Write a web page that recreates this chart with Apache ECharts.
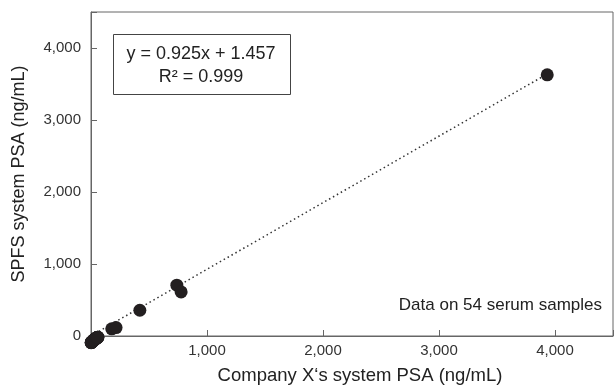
<!DOCTYPE html>
<html>
<head>
<meta charset="utf-8">
<script src="https://cdn.jsdelivr.net/npm/echarts@6/dist/echarts.min.js"></script>
<style>html,body{margin:0;padding:0;background:#fff}#c{width:616px;height:390px}</style>
</head>
<body>
<div id="c"></div>
<script>
// Company X PSA (x) vs SPFS PSA (y), ng/mL
const clusterX = [2, 5, 8, 3, 10, 12, 15, 6, 18, 20, 22, 9, 25, 28, 30, 14, 33, 35, 38, 40, 16, 42, 45, 48, 50, 11, 52, 55, 4, 58, 60, 24, 7, 13, 19, 27, 32, 36, 44, 1, 26, 17, 21, 31, 39, 47, 53, 57];
const clusterY = [-92, -88, -85, -90, -80, -78, -72, -86, -68, -66, -60, -82, -58, -52, -50, -75, -46, -42, -40, -36, -70, -34, -30, -26, -24, -79, -22, -20, -89, -18, -16, -55, -84, -76, -64, -56, -48, -44, -32, -94, -54, -71, -62, -49, -38, -28, -23, -19];
const highX = [179, 216, 421, 740, 777, 3933];
const highY = [100, 117, 358, 706, 612, 3628];
const trendX = [0, 3933];
const trendY = [1.5, 3639];
const xTicks = [1000, 2000, 3000, 4000];
const yTicks = [0, 1000, 2000, 3000, 4000];
const equationText = 'y = 0.925x + 1.457';
const r2Text = 'R² = 0.999';
const noteText = 'Data on 54 serum samples';
const xName = 'Company X‘s system PSA (ng/mL)';
const yName = 'SPFS system PSA (ng/mL)';

const points = clusterX.map((x, i) => [x, clusterY[i]]).concat(highX.map((x, i) => [x, highY[i]]));
const trend = trendX.map((x, i) => [x, trendY[i]]);
const fmt = v => v.toLocaleString('en-US');

const chart = echarts.init(document.getElementById('c'));
const font = 'Liberation Sans, Arial, sans-serif';
chart.setOption({
  animation: false,
  grid: { left: 91, top: 12, right: -3, bottom: 53, show: true, borderColor: '#666', borderWidth: 1, backgroundColor: 'transparent' },
  xAxis: {
    type: 'value', min: 0, max: 4500, interval: 1000,
    name: xName, nameLocation: 'middle', nameGap: 30,
    nameTextStyle: { fontFamily: font, fontSize: 18.5, color: '#222', padding: [0, 0, 0, 16] },
    axisLine: { lineStyle: { color: '#666', width: 1 } },
    axisTick: { inside: true, length: 6, lineStyle: { color: '#666' } },
    axisLabel: { fontFamily: font, fontSize: 15, color: '#333', margin: 7,
      formatter: v => xTicks.includes(v) ? fmt(v) : '' },
    splitLine: { show: false }
  },
  yAxis: {
    type: 'value', min: 0, max: 4500, interval: 1000,
    name: yName, nameLocation: 'middle', nameGap: 63,
    nameTextStyle: { fontFamily: font, fontSize: 18, color: '#222' },
    axisLine: { lineStyle: { color: '#666', width: 1 } },
    axisTick: { inside: true, length: 6, lineStyle: { color: '#666' } },
    axisLabel: { fontFamily: font, fontSize: 15, color: '#333', margin: 10,
      formatter: v => yTicks.includes(v) ? fmt(v) : '' },
    splitLine: { show: false }
  },
  graphic: [
    { type: 'rect', shape: { x: 113.5, y: 34.5, width: 177, height: 60 },
      style: { fill: '#fff', stroke: '#444', lineWidth: 1 }, z: 10 },
    { type: 'text', x: 201, y: 54, z: 11,
      style: { text: equationText, fontFamily: font, fontSize: 18, fill: '#222', align: 'center', verticalAlign: 'middle' } },
    { type: 'text', x: 201, y: 77, z: 11,
      style: { text: r2Text, fontFamily: font, fontSize: 18, fill: '#222', align: 'center', verticalAlign: 'middle' } },
    { type: 'text', x: 602, y: 305, z: 11,
      style: { text: noteText, fontFamily: font, fontSize: 17, fill: '#222', align: 'right', verticalAlign: 'middle' } }
  ],
  series: [
    { type: 'line', data: trend, symbol: 'none', silent: true, z: 1,
      lineStyle: { color: '#333', width: 1.5, type: [1.5, 3] } },
    { type: 'scatter', data: points, symbol: 'circle', symbolSize: 13, z: 2, clip: false,
      itemStyle: { color: '#231f20', opacity: 1 } }
  ]
});
</script>
</body>
</html>
